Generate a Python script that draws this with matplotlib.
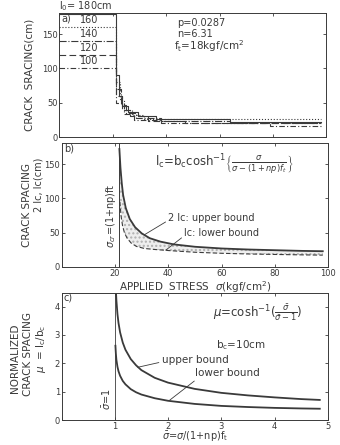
import matplotlib
matplotlib.use("Agg")
import matplotlib.pyplot as plt
import numpy as np

# panel a: crack spacing steps for each initial length l0 (edges, levels)
l0_labels = ["180", "160", "140", "120", "100"]
step_edges = [
    [0, 21.3, 22.3, 23.6, 25.8, 29.5, 36.0, 64.0, 98.0],
    [0, 21.3, 22.6, 24.2, 27.0, 31.5, 98.0],
    [0, 21.3, 23.0, 25.0, 28.5, 38.0, 64.0, 98.0],
    [0, 21.3, 23.5, 26.5, 33.0, 47.0, 98.0],
    [0, 21.3, 24.0, 28.0, 38.0, 79.0, 98.0],
]
step_levels = [
    [180, 90, 60, 45, 36, 30, 25.7, 22.5],
    [160, 80, 53.3, 40, 32, 26.7],
    [140, 70, 46.7, 35, 28, 23.3, 20],
    [120, 60, 40, 30, 24, 20],
    [100, 50, 33.3, 25, 20, 16.7],
]
step_styles = ["-", ":", "-.", (0, (6, 3)), (0, (5, 2, 1, 2))]

# panel b: bounds of crack spacing vs applied stress
sig_up = [21.6, 22.0, 22.5, 23.0, 24.0, 25.5, 27.5, 30, 33, 37, 42, 50, 60, 70, 80, 90, 98]
up_b = [172, 145, 122, 105, 86, 70, 58, 49, 42, 37, 33, 29.5, 27, 25.5, 24.5, 23.5, 23]
sig_lo = [21.8, 22.2, 22.8, 23.5, 24.5, 26, 28, 31, 35, 40, 50, 60, 70, 80, 90, 98]
lo_b = [95, 75, 60, 50, 42, 35, 30, 27, 25.5, 24, 21.5, 20, 19, 18.3, 17.7, 17.3]
sig_cr = 21.3

# panel c: normalized spacing
sbar_up = [1.024, 1.03, 1.05, 1.07, 1.1, 1.15, 1.2, 1.3, 1.4, 1.5, 1.75, 2.0, 2.5, 3.0, 3.5, 4.0, 4.5, 4.85]
mu_up = [4.45, 4.23, 3.74, 3.42, 3.09, 2.73, 2.48, 2.15, 1.93, 1.76, 1.49, 1.32, 1.10, 0.96, 0.87, 0.80, 0.74, 0.71]
sbar_lo = [1.012, 1.02, 1.03, 1.05, 1.07, 1.1, 1.15, 1.2, 1.3, 1.4, 1.5, 1.75, 2.0, 2.5, 3.0, 3.5, 4.0, 4.5, 4.85]
mu_lo = [2.62, 2.35, 2.13, 1.88, 1.72, 1.56, 1.38, 1.26, 1.09, 0.98, 0.90, 0.77, 0.68, 0.57, 0.50, 0.46, 0.43, 0.41, 0.40]

ink = "#3a3a3a"
plt.rcParams.update({
    "font.family": "DejaVu Sans",
    "font.size": 6.5,
    "text.color": ink,
    "axes.edgecolor": ink,
    "axes.labelcolor": ink,
    "xtick.color": ink,
    "ytick.color": ink,
    "axes.linewidth": 0.7,
    "mathtext.fontset": "dejavusans",
})

fig = plt.figure(figsize=(3.4, 4.45), dpi=100)
ax_a = fig.add_axes([0.175, 0.692, 0.785, 0.279])
ax_b = fig.add_axes([0.182, 0.400, 0.783, 0.279])
ax_c = fig.add_axes([0.181, 0.056, 0.783, 0.285])

for ax in (ax_a, ax_b, ax_c):
    ax.tick_params(direction="in", length=2.5, width=0.6, top=True, right=True, pad=1.2, labelsize=6)

# ---- a)
for edges, levels, ls in zip(step_edges, step_levels, step_styles):
    ax_a.plot(edges, levels + [levels[-1]], drawstyle="steps-post", ls=ls, lw=0.8, color=ink)
ax_a.set_xlim(0, 100)
ax_a.set_ylim(0, 181)
ax_a.set_xticks([0, 20, 40, 60, 80, 100])
ax_a.set_xticklabels([])
ax_a.set_yticks([0, 50, 100, 150])
fig.text(0.088, 0.832, "CRACK  SRACING(cm)", rotation=90, ha="center", va="center", fontsize=7.5)
ax_a.text(0.8, 168, "a)", fontsize=7)
for lab, lv in zip(l0_labels[1:], [l[0] for l in step_levels[1:]]):
    ax_a.text(11, lv + 3, lab, ha="center", va="bottom", fontsize=7)
ax_a.text(0, 186, r"l$_0$= 180cm", ha="left", va="baseline", fontsize=7)
ax_a.text(44, 167, "p=0.0287", va="center", fontsize=7)
ax_a.text(44, 150, "n=6.31", va="center", fontsize=7)
ax_a.text(43, 133, r"f$_\mathrm{t}$=18kgf/cm$^2$", va="center", fontsize=7.5)

# ---- b)
up_fill = np.minimum(np.interp(sig_lo, sig_up, up_b), 172)
ax_b.fill_between(sig_lo, lo_b, up_fill, facecolor="#eeeeee", edgecolor="#b0b0b0",
                  hatch="....", lw=0)
ax_b.plot(sig_up, up_b, color=ink, lw=1.3)
ax_b.plot(sig_lo, lo_b, color=ink, lw=0.8, ls=(0, (4, 2)))
ax_b.axvline(sig_cr, color=ink, lw=0.7)
ax_b.set_xlim(0, 100)
ax_b.set_ylim(0, 181)
ax_b.set_xticks([0, 20, 40, 60, 80, 100])
ax_b.set_xticklabels(["", "20", "40", "60", "80", "100"])
ax_b.set_yticks([0, 50, 100, 150])
fig.text(0.080, 0.540, "CRACK SPACING", rotation=90, ha="center", va="center", fontsize=7.5)
fig.text(0.113, 0.585, "2 lc, lc(cm)", rotation=90, ha="center", va="center", fontsize=7)
ax_b.set_xlabel(r"APPLIED  STRESS  $\sigma$(kgf/cm$^2$)", fontsize=7.5, labelpad=1)
ax_b.text(0.8, 168, "b)", fontsize=7)
ax_b.text(35, 150, r"l$_\mathrm{c}$=b$_\mathrm{c}$cosh$^{-1}$$\left\{\frac{\sigma}{\sigma-(1+np)f_t}\right\}$",
          va="center", fontsize=8.5)
ax_b.text(18.6, 75, r"$\sigma_{cr}$=(1+np)ft", rotation=90, ha="center", va="center", fontsize=7)
ax_b.annotate("2 lc: upper bound", xy=(31, 47), xytext=(40, 71), va="center", fontsize=7,
              arrowprops=dict(arrowstyle="-", lw=0.6, color=ink, shrinkA=0, shrinkB=0,
                              relpos=(0, 0.3)))
ax_b.annotate("lc: lower bound", xy=(39, 24.5), xytext=(46, 50), va="center", fontsize=7,
              arrowprops=dict(arrowstyle="-", lw=0.6, color=ink, shrinkA=0, shrinkB=0,
                              relpos=(0, 0.2)))

# ---- c)
ax_c.plot(sbar_up, mu_up, color=ink, lw=1.3)
ax_c.plot(sbar_lo, mu_lo, color=ink, lw=1.3)
ax_c.plot([1, 1], [0, 4.45], color=ink, lw=0.6)
ax_c.set_xlim(0, 5)
ax_c.set_ylim(0, 4.47)
ax_c.set_xticks([0, 1, 2, 3, 4, 5])
ax_c.set_xticklabels(["", "1", "2", "3", "4", "5"])
ax_c.set_yticks([0, 1, 2, 3, 4])
fig.text(0.045, 0.195, "NORMALIZED", rotation=90, ha="center", va="center", fontsize=7.5)
fig.text(0.082, 0.205, "CRACK SPACING", rotation=90, ha="center", va="center", fontsize=7.5)
fig.text(0.120, 0.215, r"$\mu$  = l$_\mathrm{c}$/b$_\mathrm{c}$", rotation=90, ha="center",
         va="center", fontsize=7.5)
ax_c.set_xlabel(r"$\bar{\sigma}$=$\sigma$/(1+np)f$_\mathrm{t}$", fontsize=7, labelpad=-0.5)
ax_c.text(0.04, 4.22, "c)", fontsize=7)
ax_c.text(2.85, 3.77, r"$\mu$=cosh$^{-1}$($\frac{\bar{\sigma}}{\bar{\sigma}-1}$)", va="center", fontsize=8.5)
ax_c.text(2.9, 2.65, r"b$_\mathrm{c}$=10cm", va="center", fontsize=7.5)
ax_c.text(0.85, 0.75, r"$\bar{\sigma}$=1", rotation=90, ha="center", va="center", fontsize=7)
ax_c.annotate("upper bound", xy=(1.43, 1.86), xytext=(1.88, 2.12), va="center", fontsize=7.5,
              arrowprops=dict(arrowstyle="-", lw=0.6, color=ink, shrinkA=0, shrinkB=0,
                              relpos=(0, 0.3)))
ax_c.annotate("lower bound", xy=(2.03, 0.70), xytext=(2.5, 1.65), va="center", fontsize=7.5,
              arrowprops=dict(arrowstyle="-", lw=0.6, color=ink, shrinkA=0, shrinkB=0,
                              relpos=(0.05, 0)))

fig.savefig("out.png", dpi=100)
